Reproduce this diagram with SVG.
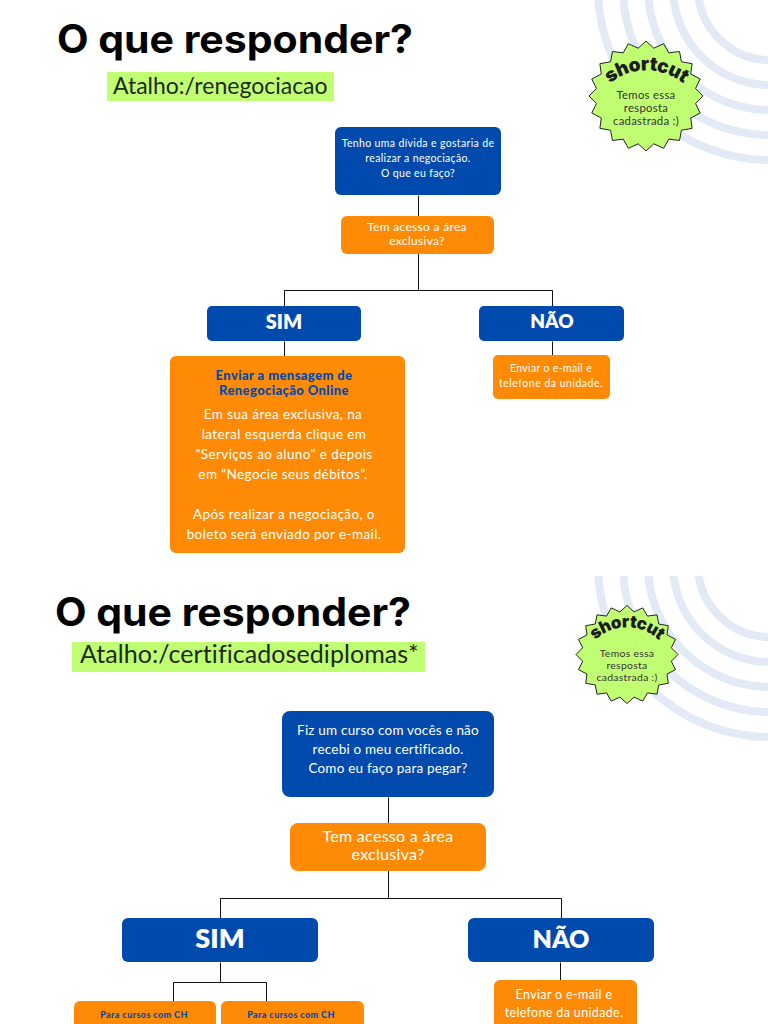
<svg xmlns="http://www.w3.org/2000/svg" width="768" height="1024" viewBox="0 0 768 1024">
<style>
text{font-family:"Lato","Liberation Sans",sans-serif;text-anchor:middle}
.h{font-family:"Inter","Liberation Sans",sans-serif;font-weight:700;font-size:39px;fill:#000;text-anchor:start}
.a{font-size:23px;fill:#1c2a1c;text-anchor:start}
.blue{fill:#004aad}.or{fill:#ff8a05}.gr{fill:#c1ff72}
.w{fill:#fff}
.b{font-weight:800;fill:#fff}
.arc{fill:none;stroke:#e3eaf5;stroke-width:8}
.c{fill:none;stroke:#111;stroke-width:1}
.s{fill:#c1ff72;stroke:#222;stroke-width:1;vector-effect:non-scaling-stroke}
.sc{font-family:"Inter","Liberation Sans",sans-serif;font-weight:900;fill:#1c1c1c;letter-spacing:-.5px}
.st{fill:#333;letter-spacing:.3px}
.bb{font-weight:900;fill:#004aad;letter-spacing:.4px}
.t10{font-size:10.5px;letter-spacing:.35px}
.t13{font-size:13.5px;letter-spacing:.4px}
</style>
<defs>
<clipPath id="p2"><rect x="0" y="576" width="768" height="448"/></clipPath>
<polygon id="star" class="s" points="0,-100 13.8,-86.9 30.9,-95.1 40,-78.4 58.8,-80.9 62.2,-62.2 80.9,-58.8 78.4,-40 95.1,-30.9 86.9,-13.8 100,0 86.9,13.8 95.1,30.9 78.4,40 80.9,58.8 62.2,62.2 58.8,80.9 40,78.4 30.9,95.1 13.8,86.9 0,100 -13.8,86.9 -30.9,95.1 -40,78.4 -58.8,80.9 -62.2,62.2 -80.9,58.8 -78.4,40 -95.1,30.9 -86.9,13.8 -100,0 -86.9,-13.8 -95.1,-30.9 -78.4,-40 -80.9,-58.8 -62.2,-62.2 -58.8,-80.9 -40,-78.4 -30.9,-95.1 -13.8,-86.9"/>
<path id="a1" d="M603,90 A58,58 0 0 1 690,90"/>
<path id="a2" d="M590,646 A46,46 0 0 1 664,646"/>
</defs>
<g id="arcs-1">
<circle class="arc" cx="770" cy="-12" r="72"/><circle class="arc" cx="770" cy="-12" r="97"/><circle class="arc" cx="770" cy="-12" r="122"/><circle class="arc" cx="770" cy="-12" r="147"/><circle class="arc" cx="770" cy="-12" r="172"/>
</g>
<g id="arcs-2" clip-path="url(#p2)">
<circle class="arc" cx="770" cy="565" r="72"/><circle class="arc" cx="770" cy="565" r="97"/><circle class="arc" cx="770" cy="565" r="122"/><circle class="arc" cx="770" cy="565" r="147"/><circle class="arc" cx="770" cy="565" r="172"/>
</g>
<g id="connectors" transform="translate(.5,.5)">
<path class="c" d="M418,195V290M284,306V290H552V306M284,341V356M552,341V355"/>
<path class="c" d="M388,797V898M220,918V898H561V918M220,962V982M173,1001V982H266V1001M560,962V980"/>
</g>
<g id="title-1"><text class="h" x="57" y="53" textLength="356" lengthAdjust="spacingAndGlyphs">O que responder?</text></g>
<g id="shortcut-label-1"><rect class="gr" x="107" y="72" width="227" height="29"/><text class="a" x="113" y="94">Atalho:/renegociacao</text></g>
<g id="badge-1"><use href="#star" transform="translate(646,96) scale(.57,.55)"/>
<text class="sc" font-size="19"><textPath href="#a1" startOffset="50%">shortcut</textPath></text>
<text class="st" font-size="11.3" x="646" y="99">Temos essa</text><text class="st" font-size="11.3" x="646" y="112">resposta</text><text class="st" font-size="11.3" x="646" y="125">cadastrada :)</text></g>
<g id="q1"><rect class="blue" x="335" y="127" width="166" height="68" rx="6"/>
<text class="w t10" x="418" y="147">Tenho uma dívida e gostaria de</text><text class="w t10" x="418" y="162">realizar a negociação.</text><text class="w t10" x="418" y="177">O que eu faço?</text></g>
<g id="acc1"><rect class="or" x="341" y="216" width="153" height="38" rx="6"/>
<text class="w" font-size="12" letter-spacing=".3" x="417" y="231">Tem acesso a área</text><text class="w" font-size="12" letter-spacing=".3" x="417" y="245">exclusiva?</text></g>
<g id="sim1"><rect class="blue" x="207" y="306" width="154" height="35" rx="5"/><text class="b" font-size="20" x="284" y="329">SIM</text></g>
<g id="nao1"><rect class="blue" x="479" y="306" width="145" height="35" rx="5"/><text class="b" font-size="19" x="552" y="328">NÃO</text></g>
<g id="res1"><rect class="or" x="170" y="356" width="235" height="197" rx="6"/>
<text class="bb" font-size="13" x="284" y="380">Enviar a mensagem de</text><text class="bb" font-size="13" x="284" y="395">Renegociação Online</text>
<g class="w t13"><text x="283" y="419">Em sua área exclusiva, na</text><text x="284" y="439">lateral esquerda clique em</text><text x="284" y="459">"Serviços ao aluno" e depois</text><text x="283" y="479">em “Negocie seus débitos”.</text><text x="284" y="519">Após realizar a negociação, o</text><text x="284" y="539">boleto será enviado por e-mail.</text></g></g>
<g id="res1b"><rect class="or" x="493" y="355" width="117" height="44" rx="5"/>
<text class="w t10" x="551" y="372">Enviar o e-mail e</text><text class="w t10" x="551" y="387" style="letter-spacing:.5px">telefone da unidade.</text></g>
<g id="title-2"><text class="h" x="55" y="626" textLength="356" lengthAdjust="spacingAndGlyphs">O que responder?</text></g>
<g id="shortcut-label-2"><rect class="gr" x="72" y="642" width="353" height="30"/><text class="a" x="80" y="663" style="font-size:25px;letter-spacing:.07px">Atalho:/certificadosediplomas*</text></g>
<g id="badge-2"><use href="#star" transform="translate(627,654.5) scale(.51,.49)"/>
<text class="sc" font-size="17"><textPath href="#a2" startOffset="50%">shortcut</textPath></text>
<text class="st" font-size="10.4" x="627" y="657">Temos essa</text><text class="st" font-size="10.4" x="627" y="669">resposta</text><text class="st" font-size="10.4" x="627" y="681">cadastrada :)</text></g>
<g id="q2"><rect class="blue" x="282" y="711" width="212" height="86" rx="8"/>
<g class="w" font-size="13.5" letter-spacing=".2"><text x="388" y="735">Fiz um curso com vocês e não</text><text x="388" y="754">recebi o meu certificado.</text><text x="388" y="773">Como eu faço para pegar?</text></g></g>
<g id="acc2"><rect class="or" x="290" y="823" width="196" height="48" rx="8"/>
<text class="w" font-size="16" letter-spacing=".3" x="388" y="842">Tem acesso a área</text><text class="w" font-size="16" letter-spacing=".3" x="388" y="860">exclusiva?</text></g>
<g id="sim2"><rect class="blue" x="122" y="918" width="196" height="44" rx="6"/><text class="b" font-size="27" x="220" y="948">SIM</text></g>
<g id="nao2"><rect class="blue" x="468" y="918" width="186" height="44" rx="6"/><text class="b" font-size="25" x="561" y="948">NÃO</text></g>
<g id="ch1"><rect class="or" x="74" y="1001" width="142" height="40" rx="6"/><text class="bb" font-size="9" x="144" y="1018">Para cursos com CH</text></g>
<g id="ch2"><rect class="or" x="221" y="1001" width="143" height="40" rx="6"/><text class="bb" font-size="9" x="291" y="1018">Para cursos com CH</text></g>
<g id="res2b"><rect class="or" x="494" y="980" width="143" height="60" rx="6"/>
<text class="w" font-size="12.5" letter-spacing=".35" x="564" y="999">Enviar o e-mail e</text><text class="w" font-size="12.5" letter-spacing=".35" x="564" y="1017">telefone da unidade.</text></g>
</svg>
